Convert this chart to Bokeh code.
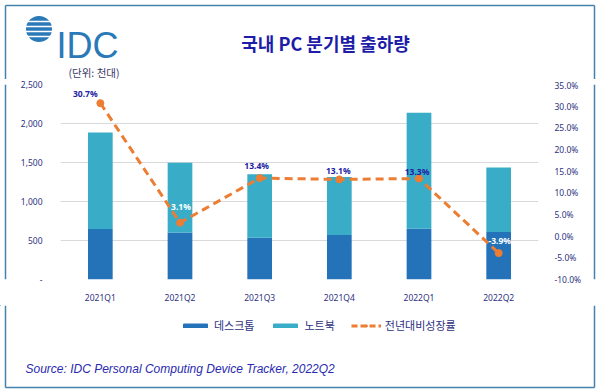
from bokeh.plotting import figure
from bokeh.layouts import column, row
from bokeh.models import (Range1d, LinearAxis, FixedTicker, LabelSet, Legend, LegendItem,
                          ColumnDataSource, PrintfTickFormatter, NumeralTickFormatter)
from bokeh.core.properties import value
from bokeh.embed import file_html
from bokeh.resources import INLINE

# ---------------- data ----------------
quarters = ["2021Q1", "2021Q2", "2021Q3", "2021Q4", "2022Q1", "2022Q2"]
desktop = [647, 603, 536, 570, 650, 608]
notebook = [1237, 893, 812, 744, 1489, 829]
growth = [30.7, 3.1, 13.4, 13.1, 13.3, -3.9]
count_ticks = [0, 500, 1000, 1500, 2000, 2500]
pct_ticks = [-10, -5, 0, 5, 10, 15, 20, 25, 30, 35]
series_names = ["데스크톱", "노트북", "전년대비성장률"]
title_text = "국내 PC 분기별 출하량"
unit_text = "(단위: 천대)"
source_text = "Source: IDC Personal Computing Device Tracker, 2022Q2"
logo_text = "IDC"

# ---------------- style ----------------
PW, PH = 599, 389          # page
TOP_H, BOT_Y = 79, 305     # page y where chart row starts / ends
LSTRIP, RSTRIP = 8, 10
CW = PW - LSTRIP - RSTRIP  # chart figure width
CH = BOT_Y - TOP_H         # chart figure height
C_DESK = "#2473B9"
C_NOTE = "#39ADC8"
C_LINE = "#EC7D33"
C_TICK = "#2E3180"
C_LAB = "#2121A3"
C_TITLE = "#1D1DA8"
C_BORDER = "#4682B0"
LOGO = "#2A79B8"
KR = "Noto Sans CJK KR"
TICKFONT = "Noto Sans"
BX0, BX1, BY0, BY1 = 5, 594, 5, 387   # border in page px


def deco(w, h, xr, yr):
    f = figure(width=w, height=h, x_range=Range1d(*xr), y_range=Range1d(*yr),
               x_axis_type=None, y_axis_type=None, output_backend="svg",
               toolbar_location=None, min_border=0)
    f.outline_line_color = None
    f.background_fill_color = "white"
    f.border_fill_color = "white"
    return f


# ---------------- top strip: logo + title + unit ----------------
top = deco(PW, TOP_H, (0, PW), (TOP_H, 0))
top.segment(x0=[BX0, BX0, BX1], y0=[BY0, BY0, BY0], x1=[BX1, BX0, BX1], y1=[BY0, TOP_H, TOP_H],
            line_color=C_BORDER, line_width=1.5)
top.circle(x=[38.5], y=[28.5], radius=13, fill_color=LOGO, line_color=None)
gaps = [28.5 + k * 5.0 for k in (-1.5, -0.5, 0.5, 1.5)]
top.hbar(y=gaps, left=[24] * 4, right=[54] * 4, height=1.7, fill_color="white", line_color=None)
top.text(x=[56], y=[45], text=[logo_text], text_font=value("Liberation Sans"),
         text_font_size="36px", text_color=LOGO, text_baseline="alphabetic")
top.text(x=[325], y=[42], text=[title_text], text_font=value(KR), text_font_size="18px",
         text_font_style="bold", text_color=C_TITLE, text_align="center",
         text_baseline="middle")
top.text(x=[68], y=[72], text=[unit_text], text_font=value(KR), text_font_size="10.5px",
         text_color="#3A3A66", text_align="left", text_baseline="middle")

# ---------------- side strips (border) ----------------
ls = deco(LSTRIP, CH, (0, LSTRIP), (BOT_Y, TOP_H))
ls.segment(x0=[BX0], y0=[TOP_H], x1=[BX0], y1=[BOT_Y], line_color=C_BORDER, line_width=1.5)
rs = deco(RSTRIP, CH, (PW - RSTRIP, PW), (BOT_Y, TOP_H))
rs.segment(x0=[BX1], y0=[TOP_H], x1=[BX1], y1=[BOT_Y], line_color=C_BORDER, line_width=1.5)

# ---------------- chart ----------------
FRAME_T, FRAME_B = 84, 280      # page px
FRAME_L, FRAME_R = 60, 538
p = figure(x_range=quarters, y_range=Range1d(0, 2500), width=CW, height=CH,
           output_backend="svg", toolbar_location=None,
           min_border_left=FRAME_L - LSTRIP, min_border_right=LSTRIP + CW - FRAME_R,
           min_border_top=FRAME_T - TOP_H, min_border_bottom=BOT_Y - FRAME_B)
p.outline_line_color = None
p.background_fill_color = "white"
p.border_fill_color = "white"

src = ColumnDataSource(dict(q=quarters, desktop=desktop, notebook=notebook))
bars = p.vbar_stack(["desktop", "notebook"], x="q", width=0.31,
                    color=[C_DESK, C_NOTE], line_color=None, source=src)

p.extra_y_ranges = {"pct": Range1d(-10, 35)}
p.line(quarters, growth, y_range_name="pct", line_color=C_LINE, line_width=3, line_dash="8 5")
p.scatter(quarters, growth, y_range_name="pct", size=7, color=C_LINE)

ax = p.yaxis[0]
ax.ticker = FixedTicker(ticks=count_ticks)
ax.formatter = NumeralTickFormatter(format="0,0")
ax.major_label_overrides = {0: "-"}
ay2 = LinearAxis(y_range_name="pct", ticker=FixedTicker(ticks=pct_ticks),
                 formatter=PrintfTickFormatter(format="%.1f%%"))
p.add_layout(ay2, "right")
for a in [ax, ay2, p.xaxis[0]]:
    a.axis_line_color = None
    a.major_tick_line_color = None
    a.minor_tick_line_color = None
    a.major_label_text_color = C_TICK
    a.major_label_text_font = TICKFONT
    a.major_label_text_font_size = "8.5px"
ax.major_label_standoff = 12
ay2.major_label_standoff = 10
p.xaxis[0].major_label_standoff = 6
p.xgrid.visible = False
p.ygrid.grid_line_color = "#D9D9D9"
p.ygrid.grid_line_width = 1

lab_dx = [-15, 1, -3, -1, -2, 1]
lab_dy = [10, 16, 13, 9, 7, 13]
lab_col = [C_LAB, "white", C_LAB, C_LAB, C_LAB, "white"]
lsrc = ColumnDataSource(dict(x=quarters, y=growth, t=["%.1f%%" % g for g in growth],
                             dx=lab_dx, dy=lab_dy, c=lab_col))
p.add_layout(LabelSet(x="x", y="y", text="t", y_range_name="pct", source=lsrc,
                      x_offset="dx", y_offset="dy", text_color="c",
                      text_align="center", text_baseline="middle",
                      text_font=value(TICKFONT), text_font_size="8.5px",
                      text_font_style="bold"))

# ---------------- bottom strip: legend + source ----------------
bot = deco(PW, PH - BOT_Y, (0, PW), (PH, BOT_Y))
bot.segment(x0=[BX0, BX0, BX1], y0=[BOT_Y, BY1, BOT_Y], x1=[BX0, BX1, BX1], y1=[BY1, BY1, BY1],
            line_color=C_BORDER, line_width=1.5)
# legend proxies, placed outside the visible range
d1 = bot.vbar(x=[-50], top=[-50], width=1, color=C_DESK)
d2 = bot.vbar(x=[-50], top=[-50], width=1, color=C_NOTE)
d3 = bot.line(x=[-60, -50], y=[-50, -50], line_color=C_LINE, line_width=3, line_dash="6 3")
d4 = bot.scatter(x=[-50], y=[-50], size=7, color=C_LINE)
legend = Legend(items=[LegendItem(label=series_names[0], renderers=[d1]),
                       LegendItem(label=series_names[1], renderers=[d2]),
                       LegendItem(label=series_names[2], renderers=[d3, d4])],
                orientation="horizontal", location=(180, 56),
                glyph_width=30, glyph_height=5, label_standoff=4, spacing=16,
                padding=0, margin=0, border_line_color=None,
                background_fill_alpha=0, label_text_font=KR,
                label_text_font_size="11px", label_text_color=C_TICK,
                label_height=12)
bot.add_layout(legend)
bot.text(x=[25], y=[368], text=[source_text], text_font=value("Liberation Sans"),
         text_font_size="12px", text_font_style="italic", text_color="#2A2AB0",
         text_baseline="middle")

layout = column(top, row(ls, p, rs), bot)
open("out.html", "w").write(file_html(layout, INLINE))
